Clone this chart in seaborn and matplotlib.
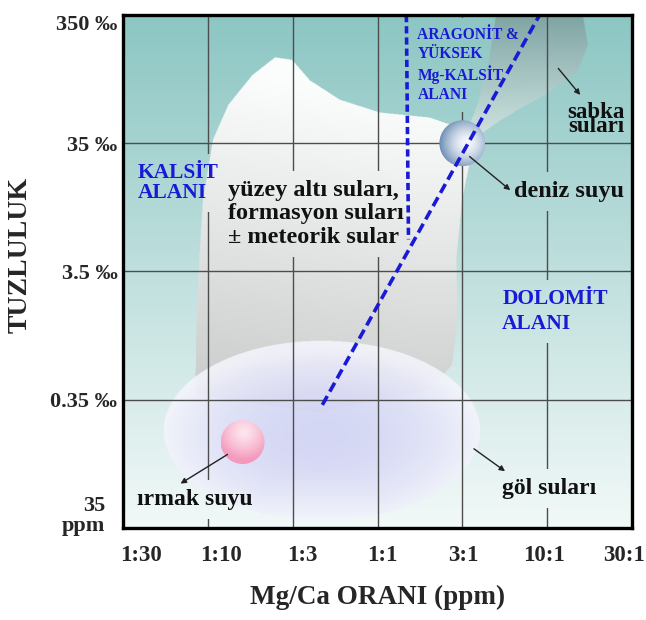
import numpy as np
import pandas as pd
import matplotlib.pyplot as plt
import matplotlib.patches as mpatches
from matplotlib.path import Path
from matplotlib.colors import to_rgb
import seaborn as sns

# -------------------------------------------------------------
# DATA: Mg/Ca ratio (categorical, evenly spaced) vs salinity (decades)
# -------------------------------------------------------------
ratio_labels = ['1:30', '1:10', '1:3', '1:1', '3:1', '10:1', '30:1']
salinity_labels = ['35\nppm', '0.35 ‰', '3.5 ‰', '35 ‰', '350 ‰']

# calcite / aragonite boundary (vertical dashed) and dolomite boundary (diagonal dashed)
calcite_x = [3.34, 3.365]
calcite_y = [4.0, 2.25]
dolomite_x = [2.35, 4.91]
dolomite_y = [0.96, 4.0]

# subsurface / formation waters field
subsurface_x = [0.85, 0.87, 0.94, 1.06, 1.24, 1.52, 1.79, 1.99, 2.20, 2.55,
                3.02, 3.61, 3.96, 4.11, 3.99, 3.92, 3.94, 3.87, 3.61, 2.3]
subsurface_y = [1.04, 1.78, 2.56, 3.03, 3.30, 3.53, 3.67, 3.65, 3.49, 3.34,
                3.24, 3.20, 3.12, 2.95, 2.56, 2.09, 1.62, 1.27, 1.08, 0.9]

# sabkha waters field
sabkha_x = [4.40, 5.41, 5.47, 5.35, 4.97, 4.49, 4.14, 3.99, 4.18, 4.32]
sabkha_y = [4.00, 4.00, 3.77, 3.56, 3.38, 3.20, 3.04, 3.03, 3.30, 3.65]

# lake waters field (ellipse: centre, width, height)
lake_center = (2.34, 0.76)
lake_size = (3.72, 1.40)

# river water and sea water points
river_point = (1.41, 0.67)
sea_point = (4.00, 3.00)

# -------------------------------------------------------------
# STYLE
# -------------------------------------------------------------
sns.set_theme(style="white")
plt.rcParams['font.family'] = ['Liberation Serif', 'DejaVu Serif']
plt.rcParams['font.weight'] = 'bold'

fig = plt.figure(figsize=(6.46, 6.2), dpi=100)
ax = fig.add_axes([0.1904, 0.1484, 0.788, 0.8274])

BLUE = '#1a1ad6'
EXT = [0, 6, 0, 4]

# -------------------------------------------------------------
# BACKGROUND: build all shaded fields as one raster
# -------------------------------------------------------------
nx, ny = 1020, 1030
xs = (np.arange(nx) + 0.5) / nx * 6
ys = (np.arange(ny) + 0.5) / ny * 4
XX, YY = np.meshgrid(xs, ys)
pts = np.column_stack([XX.ravel(), YY.ravel()])

# teal at top -> near white at bottom
t = (YY / 4)[..., None]
comp = np.array(to_rgb('#f2f9f8')) * (1 - t) + np.array(to_rgb('#8cc6c3')) * t

# subsurface field, white at top -> grey below
m = Path(np.column_stack([subsurface_x, subsurface_y])).contains_points(pts).reshape(XX.shape)
lum = 0.79 + 0.19 * np.clip((YY - 1.0) / 2.5, 0, 1) + 0.02 * np.clip((XX - 1) / 2.5, 0, 1)
grey = np.clip(np.dstack([lum, lum + 0.005, lum + 0.005]), 0, 1)
comp[m] = grey[m]

# sabkha field
m = Path(np.column_stack([sabkha_x, sabkha_y])).contains_points(pts).reshape(XX.shape)
ts = np.clip((YY - 3.0) / 1.0, 0, 1)[..., None]
sab = np.array(to_rgb('#d3e6e4')) * (1 - ts) + np.array(to_rgb('#7ea5a3')) * ts
comp[m] = sab[m]

# lake field, soft lavender fade
cx, cy = lake_center
w, h = lake_size
r = np.sqrt(((XX - cx) / (w / 2)) ** 2 + ((YY - cy) / (h / 2)) ** 2)
r2 = np.sqrt(((XX - cx) / (w / 2)) ** 2 + ((YY - cy + 0.05) / (h / 2)) ** 2)
k = np.clip(r2, 0, 1)[..., None] ** 2
k = np.maximum(k, np.clip((cy - 0.25 - YY) / 0.45, 0, 1)[..., None])
lake = np.array(to_rgb('#d3d4f5')) * (1 - k) + np.array(to_rgb('#f3f4fb')) * k
a = (r <= 1)[..., None] * 0.9
comp = comp * (1 - a) + lake * a

ax.imshow(comp, extent=EXT, origin='lower', aspect='auto', zorder=0)
ax.set_xlim(0, 6)
ax.set_ylim(0, 4)

# grid
for gx in range(1, 6):
    ax.axvline(gx, color='#4d4d4d', lw=1.0, zorder=3)
for gy in range(1, 4):
    ax.axhline(gy, color='#4d4d4d', lw=1.0, zorder=3)


def sphere(center, rpx, edge, core, hl, power):
    rx, ry = rpx / 85.0, rpx / 128.25
    c = mpatches.Ellipse(center, 2 * rx, 2 * ry, facecolor='none', edgecolor='none')
    ax.add_patch(c)
    gy_, gx_ = np.mgrid[center[1] - ry:center[1] + ry:120j, center[0] - rx:center[0] + rx:120j]
    d = np.sqrt(((gx_ - center[0] - hl[0] * rx) / rx) ** 2 + ((gy_ - center[1] - hl[1] * ry) / ry) ** 2)
    d = (np.clip(d / 1.25, 0, 1) ** power)[..., None]
    img = np.array(to_rgb(core)) * (1 - d) + np.array(to_rgb(edge)) * d
    im_ = ax.imshow(img, extent=[center[0] - rx, center[0] + rx, center[1] - ry, center[1] + ry],
                    origin='lower', aspect='auto', zorder=4)
    im_.set_clip_path(c)


sphere(sea_point, 23, '#5f82ad', '#f6f9fc', (0.2, 0.0), 1.6)
sphere(river_point, 22, '#f49abd', '#fde6ee', (0.05, 0.45), 1.3)

# boundary lines
bounds = pd.DataFrame({'x': calcite_x, 'y': calcite_y})
sns.lineplot(data=bounds, x='x', y='y', sort=False, ax=ax, color=BLUE, lw=2.6,
             linestyle=(0, (2.0, 1.1)), zorder=6)
bounds = pd.DataFrame({'x': dolomite_x, 'y': dolomite_y})
sns.lineplot(data=bounds, x='x', y='y', sort=False, ax=ax, color=BLUE, lw=2.6,
             linestyle=(0, (2.8, 1.4)), zorder=6)

# labels inside the diagram (these break the grid lines behind them)
gap_texts = [
    ax.text(0.175, 2.69, 'KALSİT\nALANI', color=BLUE, fontsize=15.5, ha='left', va='center',
            linespacing=1.02, zorder=7),
    ax.text(1.235, 2.45, 'yüzey altı suları,\nformasyon suları\n± meteorik sular', color='#111111',
            fontsize=17.5, ha='left', va='center', linespacing=1.17, zorder=7),
    ax.text(3.47, 3.61, 'ARAGONİT &\nYÜKSEK\nMg-KALSİT\nALANI', color=BLUE, fontsize=11.2,
            ha='left', va='center', linespacing=1.22, zorder=7),
    ax.text(4.61, 2.62, 'deniz suyu', color='#111111', fontsize=17.5, ha='left', va='center', zorder=7),
    ax.text(4.47, 1.69, 'DOLOMİT\nALANI', color=BLUE, fontsize=15.5, ha='left', va='center',
            linespacing=1.32, zorder=7),
    ax.text(4.47, 0.31, 'göl suları', color='#111111', fontsize=17, ha='left', va='center', zorder=7),
    ax.text(0.165, 0.22, 'ırmak suyu', color='#111111', fontsize=17, ha='left', va='center', zorder=7),
]
ax.text(5.91, 3.185, 'sabka\nsuları', color='#111111', fontsize=16.5, ha='right', va='center',
        linespacing=0.62, zorder=7)

arrow = dict(arrowstyle='-|>', color='#222222', lw=1.0, mutation_scale=8)
ax.annotate('', xy=(5.41, 3.36), xytext=(5.11, 3.60), arrowprops=arrow, zorder=7)
ax.annotate('', xy=(4.59, 2.62), xytext=(4.06, 2.91), arrowprops=arrow, zorder=7)
ax.annotate('', xy=(0.65, 0.335), xytext=(1.26, 0.585), arrowprops=arrow, zorder=7)
ax.annotate('', xy=(4.53, 0.43), xytext=(4.11, 0.63), arrowprops=arrow, zorder=7)

# axes, ticks
for sp in ax.spines.values():
    sp.set_visible(True)
    sp.set_color('black')
    sp.set_linewidth(2.4)
    sp.set_zorder(8)

ax.set_xticks(np.linspace(0.21, 5.91, len(ratio_labels)))
ax.set_xticklabels(ratio_labels, fontsize=16.5, fontweight='bold')
ax.set_yticks(range(1, 5))
ax.set_yticklabels(salinity_labels[1:], fontsize=16, fontweight='bold')
ax.tick_params(axis='x', length=0, pad=12)
ax.tick_params(axis='y', length=0, pad=4)
ax.get_yticklabels()[-1].set_va('top')
ax.text(-0.212, 0.09, salinity_labels[0], transform=ax.transData, ha='right', va='center',
        fontsize=16, fontweight='bold', linespacing=1.0)

ax.set_xlabel('Mg/Ca ORANI (ppm)', fontsize=19.5, fontweight='bold', labelpad=14)
ax.set_ylabel('TUZLULUK', fontsize=20, fontweight='bold')
ax.yaxis.set_label_coords(-0.177, 0.532)

# cut the grid lines behind the text labels by repainting the background there
fig.canvas.draw()
inv = ax.transData.inverted()
for txt in gap_texts:
    bb = txt.get_window_extent().transformed(inv)
    px, py = 7 / 85.0, 9 / 128.25
    rect = mpatches.Rectangle((bb.x0 - px, bb.y0 - py), bb.width + 2 * px, bb.height + 2 * py,
                              facecolor='none', edgecolor='none')
    ax.add_patch(rect)
    patch_im = ax.imshow(comp, extent=EXT, origin='lower', aspect='auto', zorder=3.5)
    patch_im.set_clip_path(rect)
ax.set_xlim(0, 6)
ax.set_ylim(0, 4)

fig.savefig('out.png', dpi=100)
